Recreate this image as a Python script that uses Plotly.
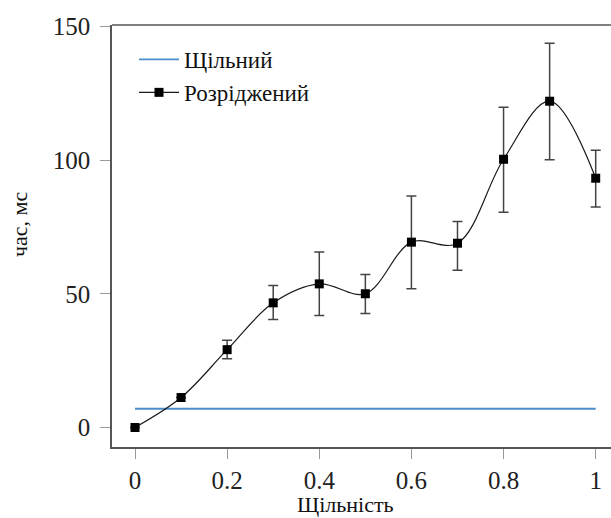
import plotly.graph_objects as go

density = [0.0, 0.1, 0.2, 0.3, 0.4, 0.5, 0.6, 0.7, 0.8, 0.9, 1.0]
sparse_time = [0.0, 11.2, 29.1, 46.6, 53.7, 50.0, 69.3, 68.9, 100.3, 122.0, 93.2]
sparse_err_plus = [0.0, 0.0, 3.5, 6.5, 11.9, 7.2, 17.3, 8.1, 19.4, 21.7, 10.5]
sparse_err_minus = [0.0, 0.0, 3.4, 6.2, 11.8, 7.4, 17.4, 10.1, 19.8, 21.9, 10.8]
dense_x = [0.0, 1.0]
dense_time = [7.0, 7.0]

x_ticks = [0, 0.2, 0.4, 0.6, 0.8, 1]
x_tick_labels = ["0", "0.2", "0.4", "0.6", "0.8", "1"]
y_ticks = [0, 50, 100, 150]

serif = "Liberation Serif, DejaVu Serif, serif"

# figure slightly wider than the window: the plot box is open (cut) on the right
W, H = 625, 518
ML, MT, MB, MR = 112, 25, 71, 0
PW, PH = W - ML - MR, H - MT - MB
X0_PX, X1_PX = 135.0, 595.7
PX_PER_UNIT = X1_PX - X0_PX
x_range = [(ML - X0_PX) / PX_PER_UNIT, (W - MR - X0_PX) / PX_PER_UNIT]


def px_x(px):
    return (px - ML) / PW


def px_y(py):
    return (H - MB - py) / PH


fig = go.Figure()
fig.add_trace(go.Scatter(
    x=dense_x, y=dense_time, mode="lines", name="Щільний",
    line=dict(color="#4a8fca", width=1.8),
))
fig.add_trace(go.Scatter(
    x=density, y=sparse_time, mode="lines+markers", name="Розріджений",
    line=dict(color="#1a1a1a", width=1.2, shape="spline", smoothing=1.0),
    marker=dict(symbol="square", size=9, color="black"),
    error_y=dict(type="data", symmetric=False, array=sparse_err_plus,
                 arrayminus=sparse_err_minus, color="#444444",
                 thickness=1.5, width=5),
))

fig.update_layout(
    width=W, height=H,
    margin=dict(l=ML, r=MR, t=MT, b=MB, autoexpand=False),
    plot_bgcolor="white", paper_bgcolor="white",
    font=dict(family=serif, color="#222222"),
    showlegend=True,
    legend=dict(x=px_x(134), y=px_y(38), xanchor="left", yanchor="top",
                bgcolor="rgba(0,0,0,0)", font=dict(size=23, family=serif, color="#111111"),
                tracegroupgap=0, itemwidth=40),
    xaxis=dict(range=x_range, tickvals=x_ticks, ticktext=x_tick_labels,
               automargin=False,
               showgrid=False, zeroline=False, showline=True, linecolor="#555555",
               linewidth=1.6, mirror=False, ticks="outside", ticklen=10,
               tickcolor="#999999", tickwidth=1.2,
               tickfont=dict(size=25, family=serif, color="#222222")),
    yaxis=dict(range=[-7.3, 150.5], tickvals=y_ticks, automargin=False,
               showgrid=False, zeroline=False, showline=True, linecolor="#555555",
               linewidth=1.6, ticks="outside", ticklen=10,
               tickcolor="#999999", tickwidth=1.2, ticklabelstandoff=5,
               tickfont=dict(size=25, family=serif, color="#222222")),
    annotations=[
        dict(text="Щільність", xref="paper", yref="paper", x=px_x(345),
             y=px_y(504), xanchor="center", yanchor="middle", showarrow=False,
             font=dict(size=22, family=serif, color="#111111")),
        dict(text="час, мс", xref="paper", yref="paper", x=px_x(19),
             y=px_y(224), xanchor="center", yanchor="middle", showarrow=False,
             textangle=-90, font=dict(size=22, family=serif, color="#111111")),
    ],
)
fig.add_shape(type="line", xref="paper", yref="paper", x0=0, x1=1, y0=1, y1=1,
              line=dict(color="#555555", width=1.6))

fig.write_html("out.html", config={"displayModeBar": False},
               post_script="document.body.style.margin='0';document.body.style.overflow='hidden';")
